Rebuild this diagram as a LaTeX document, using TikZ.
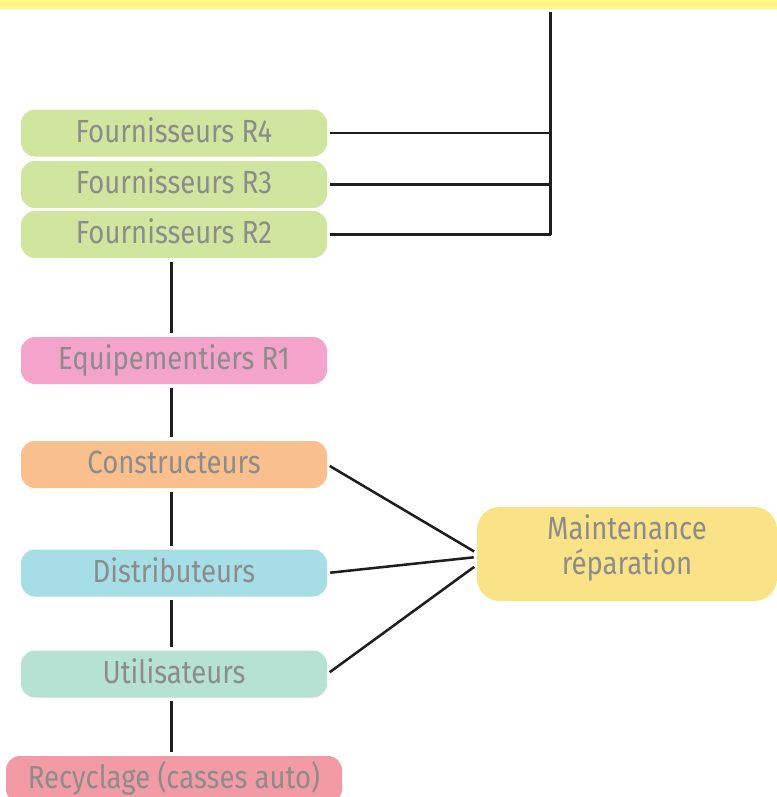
\documentclass[tikz,border=0pt]{standalone}
\usepackage{fontspec}
\setmainfont{Fira Sans}[FakeStretch=0.86]
\definecolor{barY}{HTML}{FFF685}
\definecolor{cGreen}{HTML}{D0E69E}
\definecolor{cPink}{HTML}{F4A3CB}
\definecolor{cOrange}{HTML}{F9C08E}
\definecolor{cCyan}{HTML}{A6DEE6}
\definecolor{cMint}{HTML}{B5E2D3}
\definecolor{cRed}{HTML}{F29BA4}
\definecolor{cYellow}{HTML}{F9E386}
\definecolor{txtG}{HTML}{8C8C8C}
\definecolor{lineK}{HTML}{1E1E1E}
\begin{document}
\begin{tikzpicture}[x=0.75pt,y=-0.75pt,
  box/.style={rounded corners=10.5pt, minimum width=229.5pt, minimum height=35.25pt,
    inner sep=0pt, text=txtG, font=\fontsize{24}{26.5}\selectfont,
    text height=16.5pt, text depth=3pt},
  link/.style={draw=lineK, line width=1.9pt},
  gap/.style={shorten <=2.6pt, shorten >=2.6pt}]
\useasboundingbox (0,0) rectangle (777,797);
\fill[white] (0,0) rectangle (777,797);
% top bar
\node[fill=barY, minimum width=582.75pt, minimum height=6.75pt, inner sep=0pt, anchor=north west] (topbar) at (0,0) {};
% boxes
\node[box, fill=cGreen] (R4) at (174,133) {Fournisseurs R4};
\node[box, fill=cGreen] (R3) at (174,184.5) {Fournisseurs R3};
\node[box, fill=cGreen] (R2) at (174,234.5) {Fournisseurs R2};
\node[box, fill=cPink] (R1) at (174,360.5) {Equipementiers R1};
\node[box, fill=cOrange] (cons) at (174,464.5) {Constructeurs};
\node[box, fill=cCyan] (dist) at (174,573) {Distributeurs};
\node[box, fill=cMint] (util) at (174,674) {Utilisateurs};
\node[box, fill=cRed, minimum width=252pt] (recy) at (174,779.5) {Recyclage (casses auto)};
\node[box, fill=cYellow, rounded corners=17pt, minimum width=225pt, minimum height=70.5pt, align=center,
  text height=43pt, text depth=12pt] (maint) at (627,554) {Maintenance\\réparation};
% supplier bus
\coordinate (spinetop) at (550.5,12);
\coordinate (spinebot) at (550.5,234.5);
\draw[link] (spinetop) -- (spinebot);
\draw[link, shorten <=2.25pt] (R4.east) -- (R4.east -| spinetop);
\draw[link, shorten <=2.25pt] (R3.east) -- (R3.east -| spinetop);
\draw[link, shorten <=2.25pt] (R2.east) -- (R2.east -| spinetop);
% main chain
\draw[link, gap] ([xshift=-1.9pt]R2.south) -- ([xshift=-1.9pt]R1.north);
\draw[link, gap] ([xshift=-1.9pt]R1.south) -- ([xshift=-1.9pt]cons.north);
\draw[link, gap] ([xshift=-1.9pt]cons.south) -- ([xshift=-1.9pt]dist.north);
\draw[link, gap] ([xshift=-1.9pt]dist.south) -- ([xshift=-1.9pt]util.north);
\draw[link, gap] ([xshift=-1.9pt]util.south) -- ([xshift=-1.9pt]recy.north);
% to maintenance
\draw[link, shorten <=2.25pt, shorten >=2.25pt] (cons.east) -- ([yshift=0.75pt]maint.west);
\draw[link, shorten <=2.25pt, shorten >=2.25pt] (dist.east) -- ([yshift=-2.25pt]maint.west);
\draw[link, shorten <=2.25pt, shorten >=2.25pt] (util.east) -- ([yshift=-8.25pt]maint.west);
\end{tikzpicture}
\end{document}
